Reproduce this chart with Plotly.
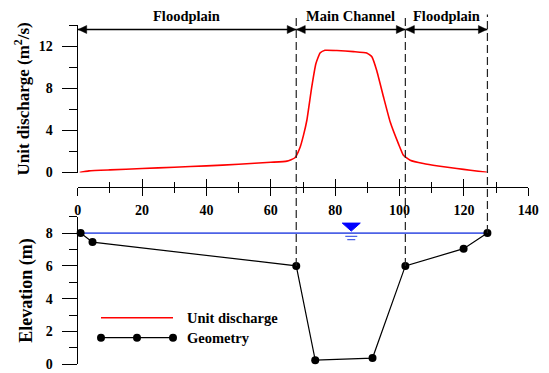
import plotly.graph_objects as go

# ---------------- data ----------------
q_x = [0.6, 3.5, 10, 20, 30, 40, 50, 60, 65, 67.5, 69.1, 70.2, 71.2, 72.7, 74.0,
       75.3, 76.8, 80.5, 85.7, 89.8, 91.4, 92.9, 95.0, 97.1, 99.7, 101.2, 103.3,
       107.4, 112.0, 117.8, 122.0, 127.1]
q_y = [0.0, 0.15, 0.25, 0.38, 0.5, 0.63, 0.78, 0.97, 1.08, 1.4, 2.4, 3.6, 4.97, 8.1, 10.35,
       11.37, 11.62, 11.6, 11.5, 11.37, 11.0, 9.7, 7.2, 4.8, 2.7, 1.64, 1.17,
       0.85, 0.62, 0.38, 0.22, 0.02]

geo_x = [0.9, 4.6, 67.9, 73.8, 91.6, 101.8, 119.9, 127.3]
geo_y = [8.0, 7.45, 6.0, 0.25, 0.38, 6.0, 7.05, 8.0]

water_level = 8.0
water_mark_x = 85.0

boundary_idx = [2, 5, 7]
zone_labels = ["Floodplain", "Main Channel", "Floodplain"]
legend_names = ["Unit discharge", "Geometry"]

# ---------------- layout geometry ----------------
W, H = 549, 373
XDOM = [77.7 / W, 528.3 / W]
Y1DOM = [1 - 172.5 / H, 1 - 25.3 / H]
Y2DOM = [1 - 364.3 / H, 1 - 216.7 / H]
Y2RANGE = [0, 9]
XAX_POS = 1 - 187.3 / H
ARROW_Y = 1 - 29.5 / H
LABEL_Y = 1 - 15.5 / H
DASH_TOP = 1 - 14.5 / H

FAM = "Liberation Serif"
tickfont = dict(family=FAM, size=14, color="black", weight="bold")

def y2_paper(v):
    return Y2DOM[0] + (v - Y2RANGE[0]) / (Y2RANGE[1] - Y2RANGE[0]) * (Y2DOM[1] - Y2DOM[0])

fig = go.Figure()

fig.add_trace(go.Scatter(
    x=q_x, y=q_y, mode="lines", name=legend_names[0],
    line=dict(color="#ff0000", width=1.6, shape="spline", smoothing=0.4),
    xaxis="x", yaxis="y", showlegend=False, hoverinfo="skip"))

fig.add_trace(go.Scatter(
    x=[geo_x[0], geo_x[-1]], y=[water_level, water_level], mode="lines",
    line=dict(color="#4d62e6", width=1.6), xaxis="x", yaxis="y2",
    showlegend=False, hoverinfo="skip"))

fig.add_trace(go.Scatter(
    x=geo_x, y=geo_y, mode="lines+markers", name=legend_names[1],
    line=dict(color="black", width=1.2), marker=dict(color="black", size=8),
    xaxis="x", yaxis="y2", cliponaxis=False, showlegend=False, hoverinfo="skip"))

# helper trace for the upward-tick overlay axis
fig.add_trace(go.Scatter(x=[None], y=[None], xaxis="x2", yaxis="y",
                         showlegend=False, hoverinfo="skip"))

axline = dict(showline=True, linecolor="black", linewidth=1.3, showgrid=False,
              zeroline=False, mirror=False, automargin=False)

fig.update_layout(
    width=W, height=H, margin=dict(l=0, r=0, t=0, b=0, autoexpand=False),
    paper_bgcolor="white", plot_bgcolor="white", showlegend=False,
    xaxis=dict(domain=XDOM, range=[0, 140], anchor="free", position=XAX_POS,
               tickmode="linear", tick0=0, dtick=20, ticks="outside", ticklen=8,
               tickwidth=1.3, tickcolor="black", tickfont=tickfont,
               ticklabelstandoff=2,
               minor=dict(ticks="outside", ticklen=5, tickwidth=1, tickcolor="black",
                          dtick=10, tick0=0, showgrid=False),
               **axline),
    xaxis2=dict(domain=XDOM, range=[0, 140], anchor="free", position=XAX_POS,
                overlaying="x", tickmode="linear", tick0=0, dtick=20, ticks="inside",
                ticklen=8, tickwidth=1.3, tickcolor="black", showticklabels=False,
                minor=dict(ticks="inside", ticklen=5, tickwidth=1, tickcolor="black",
                           dtick=10, tick0=0, showgrid=False),
                showline=False, showgrid=False, zeroline=False, automargin=False),
    yaxis=dict(domain=Y1DOM, range=[0, 14], anchor="x", tickmode="linear", tick0=0,
               dtick=4, ticks="outside", ticklen=15, tickwidth=1.3, tickcolor="black",
               tickfont=tickfont, ticklabelstandoff=6,
               minor=dict(ticks="outside", ticklen=8, tickwidth=1.3, tickcolor="black",
                          dtick=2, tick0=0, showgrid=False),
               title=dict(text="Unit discharge (m<sup>2</sup>/s)", standoff=4,
                          font=dict(family=FAM, size=17, color="black", weight="bold")),
               **axline),
    yaxis2=dict(domain=Y2DOM, range=Y2RANGE, anchor="x", tickmode="linear", tick0=0,
                dtick=2, ticks="outside", ticklen=15, tickwidth=1.3, tickcolor="black",
                tickfont=tickfont, ticklabelstandoff=6,
                minor=dict(ticks="outside", ticklen=8, tickwidth=1.3, tickcolor="black",
                           dtick=1, tick0=0, showgrid=False),
                title=dict(text="Elevation (m)", standoff=8,
                           font=dict(family=FAM, size=18, color="black", weight="bold")),
                **axline),
)

bounds = [0.0] + [geo_x[i] for i in boundary_idx]
annotations = []
shapes = []
for a, b, lab in zip(bounds[:-1], bounds[1:], zone_labels):
    # double-headed dimension arrow
    shapes.append(dict(type="line", xref="x", yref="paper", x0=a, x1=b,
                       y0=ARROW_Y, y1=ARROW_Y, line=dict(color="black", width=1.3)))
    shapes.append(dict(type="path", xref="x", yref="paper", xsizemode="pixel",
                       ysizemode="pixel", xanchor=a, yanchor=ARROW_Y,
                       path="M0.5,0 L9,4 L9,-4 Z", fillcolor="black",
                       line=dict(color="black", width=0.5)))
    shapes.append(dict(type="path", xref="x", yref="paper", xsizemode="pixel",
                       ysizemode="pixel", xanchor=b, yanchor=ARROW_Y,
                       path="M-0.5,0 L-9,4 L-9,-4 Z", fillcolor="black",
                       line=dict(color="black", width=0.5)))
    annotations.append(dict(
        x=(a + b) / 2, y=LABEL_Y, xref="x", yref="paper", text=lab, showarrow=False,
        font=dict(family=FAM, size=14.5, color="black", weight="bold"),
        xanchor="center", yanchor="middle"))

for i in boundary_idx:
    shapes.append(dict(type="line", xref="x", yref="paper", x0=geo_x[i], x1=geo_x[i],
                       y0=y2_paper(geo_y[i]), y1=DASH_TOP,
                       line=dict(color="#222222", width=1.2, dash="8px,4px")))

# water-surface symbol
shapes.append(dict(type="path", xref="x", yref="y2", xsizemode="pixel", ysizemode="pixel",
                   xanchor=water_mark_x, yanchor=water_level,
                   path="M-9,10 L9,10 L0,2 Z", fillcolor="#0000ff",
                   line=dict(color="#0000ff", width=1)))
shapes.append(dict(type="path", xref="x", yref="y2", xsizemode="pixel", ysizemode="pixel",
                   xanchor=water_mark_x, yanchor=water_level,
                   path="M-6,-3.3 H6 M-4,-6.6 H4",
                   line=dict(color="#4d62e6", width=1.3)))

# custom legend
LEG_X0, LEG_X1, LEG_TX = 101 / W, 173 / W, 185 / W
LEG_Y = [1 - 317.7 / H, 1 - 337.7 / H]
shapes.append(dict(type="line", xref="paper", yref="paper", x0=LEG_X0, x1=LEG_X1,
                   y0=LEG_Y[0], y1=LEG_Y[0], line=dict(color="#ff0000", width=1.6)))
shapes.append(dict(type="line", xref="paper", yref="paper", x0=LEG_X0, x1=LEG_X1,
                   y0=LEG_Y[1], y1=LEG_Y[1], line=dict(color="black", width=1.2)))
for mx in [LEG_X0, (LEG_X0 + LEG_X1) / 2, LEG_X1]:
    shapes.append(dict(type="circle", xref="paper", yref="paper", xsizemode="pixel",
                       ysizemode="pixel", xanchor=mx, yanchor=LEG_Y[1],
                       x0=-4, x1=4, y0=-4, y1=4, fillcolor="black",
                       line=dict(color="black", width=0)))
for name, ly in zip(legend_names, LEG_Y):
    annotations.append(dict(x=LEG_TX, y=ly, xref="paper", yref="paper", text=name,
                            showarrow=False, xanchor="left", yanchor="middle",
                            font=dict(family=FAM, size=14.5, color="black", weight="bold")))

fig.update_layout(annotations=annotations, shapes=shapes)
fig.write_html("out.html", config={"displayModeBar": False},
               post_script="document.body.style.margin='0';document.body.style.padding='0';")
